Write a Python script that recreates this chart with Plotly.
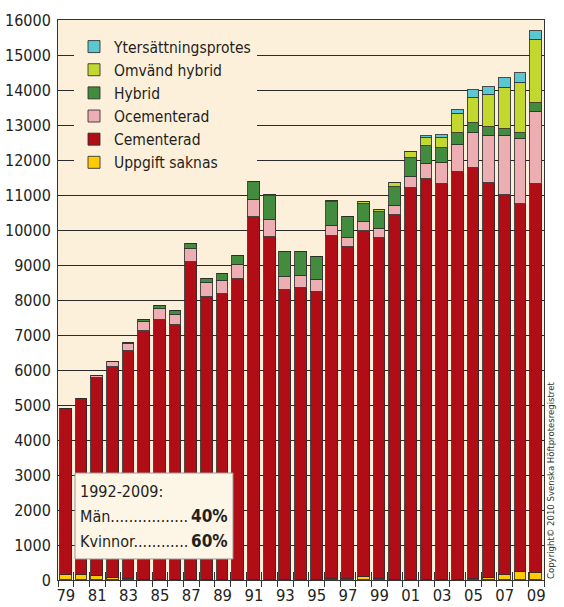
import plotly.graph_objects as go

years = list(range(1979, 2010))
tick_years = list(range(1979, 2010, 2))
tick_labels = [f"{y % 100:02d}" for y in tick_years]

uppgift_saknas = [130, 140, 125, 65, 25, 0, 0, 0, 0, 0, 0, 0, 0, 0, 0, 0, 0,
                  30, 20, 75, 30, 0, 0, 0, 0, 0, 15, 50, 130, 230, 190]
cementerad = [4756, 5023, 5640, 6030, 6515, 7115, 7430, 7285, 9095, 8095, 8160,
              8600, 10380, 9790, 8285, 8335, 8220, 9800, 9505, 9905, 9730, 10430,
              11190, 11450, 11315, 11655, 11745, 11285, 10870, 10505, 11115]
ocementerad = [0, 0, 65, 125, 190, 265, 320, 290, 360, 400, 380, 395, 470, 490,
               380, 360, 350, 285, 255, 255, 255, 255, 315, 430, 590, 760, 1000,
               1360, 1685, 1855, 2075]
hybrid = [0, 0, 0, 0, 30, 50, 80, 110, 140, 100, 200, 270, 510, 690, 700, 670,
          650, 680, 580, 520, 500, 535, 540, 515, 430, 345, 285, 255, 210, 190, 240]
omvand_hybrid = [0, 0, 0, 0, 0, 0, 0, 0, 0, 0, 0, 0, 0, 30, 0, 20, 20, 20, 0,
                 40, 70, 135, 170, 230, 305, 545, 715, 895, 1150, 1430, 1810]
ytersattning = [0, 0, 0, 0, 0, 0, 0, 0, 0, 0, 0, 0, 0, 0, 0, 0, 0, 0, 0, 0, 0,
                0, 0, 70, 70, 125, 240, 240, 285, 285, 255]

series = [
    ("Uppgift saknas", uppgift_saknas, "#FFCB05"),
    ("Cementerad", cementerad, "#B00D17"),
    ("Ocementerad", ocementerad, "#ECADB3"),
    ("Hybrid", hybrid, "#438B3E"),
    ("Omvänd hybrid", omvand_hybrid, "#C3D82E"),
    ("Ytersättningsprotes", ytersattning, "#5BC7D2"),
]

FONT = "DejaVu Sans Condensed, Liberation Sans Narrow, sans-serif"
TXT = "#231F20"
CREAM = "#FDF0DB"

fig = go.Figure()
for name, vals, col in series:
    fig.add_trace(go.Bar(
        x=years, y=vals, name=name, width=0.75,
        marker=dict(color=col, line=dict(color="rgba(45,45,45,0.85)", width=1)),
    ))

W, H = 564, 607
L, R, T, B = 58, 20, 20, 27
pw, ph = W - L - R, H - T - B


def px(xp):
    return (xp - L) / pw


def py(yp):
    return (H - B - yp) / ph


fig.update_layout(
    width=W, height=H,
    margin=dict(l=L, r=R, t=T, b=B, autoexpand=False),
    paper_bgcolor="white",
    plot_bgcolor=CREAM,
    barmode="stack",
    bargap=0,
    font=dict(family=FONT, color=TXT, size=16),
    showlegend=True,
    legend=dict(
        traceorder="reversed",
        x=px(74), y=py(30), xanchor="left", yanchor="top",
        bgcolor=CREAM, borderwidth=0,
        font=dict(family=FONT, size=15.5, color=TXT),
        tracegroupgap=0, itemwidth=30,
    ),
    xaxis=dict(
        range=[1978.5, 2009.5], automargin=False,
        tickmode="array", tickvals=tick_years, ticktext=tick_labels,
        ticks="", showgrid=False, zeroline=False,
        showline=True, linecolor="#333333", linewidth=1, mirror=True,
        tickfont=dict(family=FONT, size=16.5, color=TXT),
        ticklabelstandoff=0,
        minor=dict(tickmode="linear", tick0=1978.5, dtick=1, ticks="outside",
                   ticklen=6, tickwidth=1, tickcolor="#333333", showgrid=False),
    ),
    xaxis2=dict(
        range=[1978.5, 2009.5], overlaying="x", anchor="y", side="bottom",
        automargin=False,
        tickmode="linear", tick0=1978.5, dtick=1, ticks="inside", ticklen=8,
        tickwidth=1, tickcolor="#333333", showticklabels=False,
        showgrid=False, zeroline=False, showline=False,
    ),
    yaxis=dict(
        range=[0, 16000], tickmode="linear", tick0=0, dtick=1000,
        tickformat="d", automargin=False,
        showgrid=True, gridcolor="#2A2A2A", gridwidth=1,
        zeroline=False, ticks="",
        showline=True, linecolor="#333333", linewidth=1, mirror=True,
        tickfont=dict(family=FONT, size=16, color=TXT),
        ticklabelstandoff=3,
    ),
)

# invisible helper trace so that the overlaying tick axis is drawn
fig.add_trace(go.Scatter(x=[1978.5], y=[0], xaxis="x2", mode="markers",
                         marker=dict(opacity=0), showlegend=False,
                         hoverinfo="skip"))

# info box
fig.add_shape(type="rect", xref="paper", yref="paper",
              x0=px(75), x1=px(233), y0=py(559), y1=py(473),
              fillcolor="#FDF5E6", line=dict(color="#9A9A9A", width=1),
              layer="above")

box_font = dict(family=FONT, size=16, color=TXT)
fig.add_annotation(xref="paper", yref="paper", x=px(78), y=py(491),
                   xanchor="left", yanchor="middle", showarrow=False,
                   text="1992-2009:", font=box_font)
fig.add_annotation(xref="paper", yref="paper", x=px(78), y=py(516),
                   xanchor="left", yanchor="middle", showarrow=False,
                   text="Män" + "." * 17, font=box_font)
fig.add_annotation(xref="paper", yref="paper", x=px(78), y=py(541),
                   xanchor="left", yanchor="middle", showarrow=False,
                   text="Kvinnor" + "." * 12, font=box_font)
fig.add_annotation(xref="paper", yref="paper", x=px(230), y=py(516),
                   xanchor="right", yanchor="middle", showarrow=False,
                   text="<b>40%</b>", font=dict(family=FONT, size=17, color=TXT))
fig.add_annotation(xref="paper", yref="paper", x=px(230), y=py(541),
                   xanchor="right", yanchor="middle", showarrow=False,
                   text="<b>60%</b>", font=dict(family=FONT, size=17, color=TXT))

# copyright
fig.add_annotation(xref="paper", yref="paper", x=px(550), y=py(481),
                   xanchor="center", yanchor="middle", showarrow=False,
                   textangle=-90,
                   text="Copyright© 2010 Svenska Höftprotesregistret",
                   font=dict(family=FONT, size=9.5, color="#333333"))

fig.write_html(
    "out.html",
    config={"displayModeBar": False},
    post_script="document.body.style.margin='0px';"
                "document.body.style.overflow='hidden';",
)
